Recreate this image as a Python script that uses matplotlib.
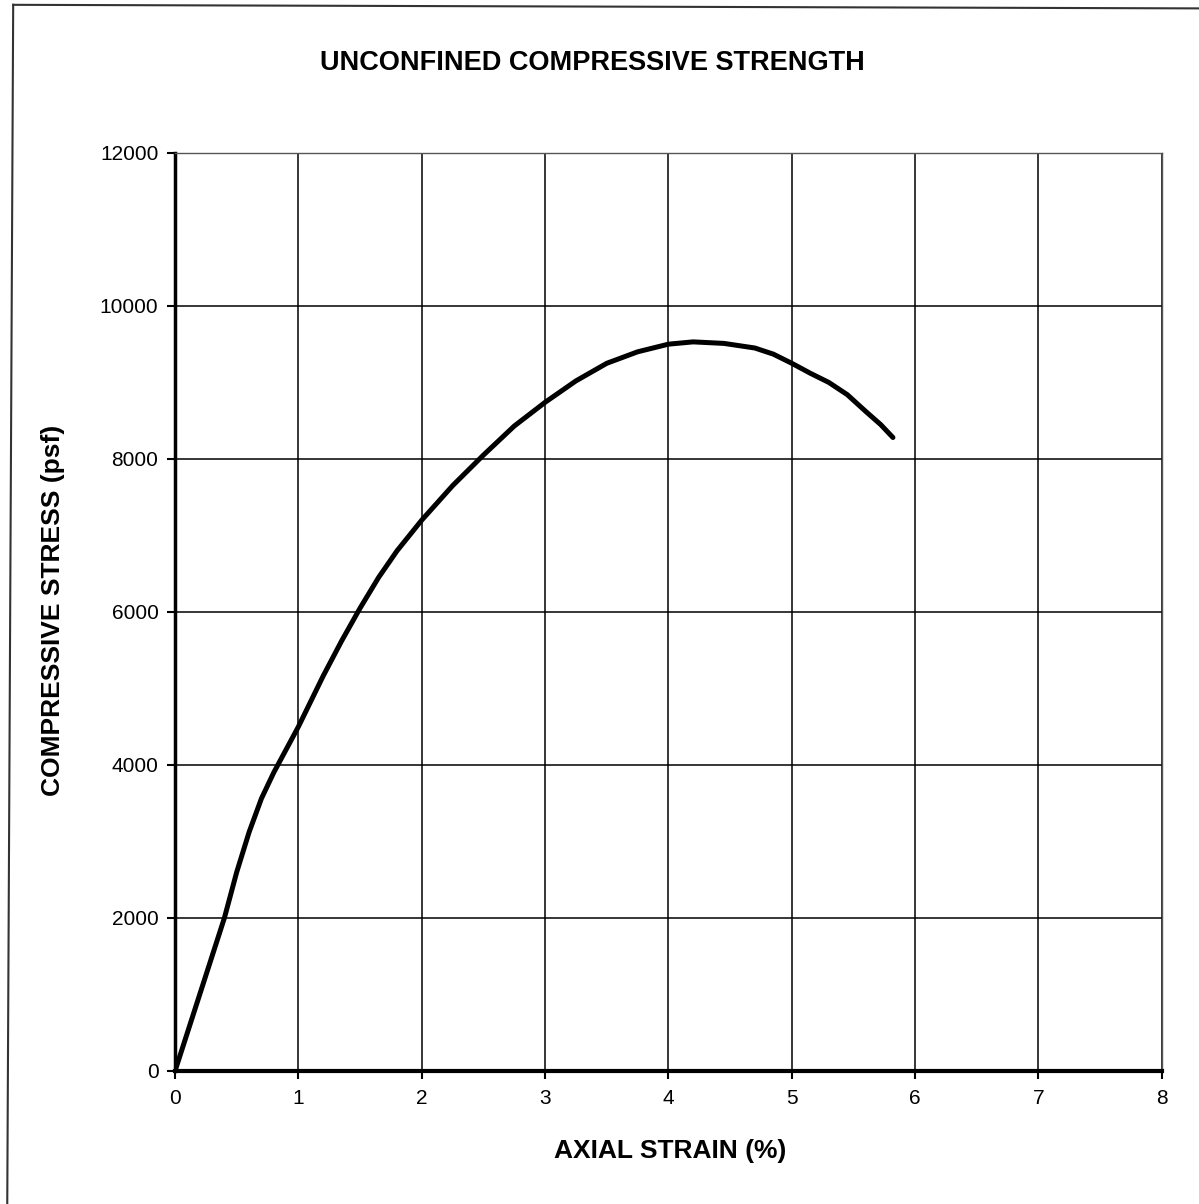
import matplotlib.pyplot as plt
from matplotlib.lines import Line2D

plt.rcParams['font.family'] = ['Liberation Sans', 'DejaVu Sans']

# Data: axial strain (%) and compressive stress (psf)
strain = [0, 0.2, 0.4, 0.5, 0.6, 0.7, 0.8, 0.9, 1.0, 1.1, 1.2, 1.35, 1.5,
          1.65, 1.8, 2.0, 2.25, 2.5, 2.75, 3.0, 3.25, 3.5, 3.75, 4.0, 4.2,
          4.45, 4.7, 4.85, 5.0, 5.15, 5.3, 5.45, 5.6, 5.72, 5.82]
stress = [0, 1000, 2000, 2600, 3120, 3560, 3900, 4200, 4500, 4830, 5160,
          5620, 6050, 6450, 6800, 7200, 7650, 8050, 8430, 8740, 9020, 9250,
          9400, 9500, 9530, 9510, 9450, 9370, 9250, 9120, 9000, 8840, 8620,
          8450, 8280]

x_ticks = [0, 1, 2, 3, 4, 5, 6, 7, 8]
y_ticks = [0, 2000, 4000, 6000, 8000, 10000, 12000]

fig = plt.figure(figsize=(11.99, 12.04), dpi=100)
ax = fig.add_axes([0.146, 0.1105, 0.823, 0.7625])

ax.plot(strain, stress, color='black', linewidth=3.6, solid_capstyle='round',
        solid_joinstyle='round', zorder=3)

ax.set_xlim(0, 8)
ax.set_ylim(0, 12000)
ax.set_xticks(x_ticks)
ax.set_yticks(y_ticks)
ax.grid(True, color='black', linewidth=1.1)
ax.set_axisbelow(True)

ax.tick_params(axis='both', direction='out', length=6, width=1.5,
               labelsize=15, colors='black')
ax.tick_params(axis='x', pad=7)
ax.tick_params(axis='y', pad=6)

ax.spines['left'].set_linewidth(2.5)
ax.spines['bottom'].set_linewidth(3)
ax.spines['top'].set_linewidth(1)
ax.spines['right'].set_linewidth(1)
ax.spines['top'].set_color('#555555')
ax.spines['right'].set_color('#555555')

# Title and axis labels
fig.text(0.494, 0.948, 'UNCONFINED COMPRESSIVE STRENGTH', ha='center',
         va='center', fontsize=19.5, fontweight='bold')
fig.text(0.559, 0.044, 'AXIAL STRAIN (%)', ha='center', va='center',
         fontsize=19, fontweight='bold')
fig.text(0.044, 0.493, 'COMPRESSIVE STRESS (psf)', ha='center', va='center',
         rotation=90, fontsize=19, fontweight='bold')

# Scanned page border (left and top only are visible)
fig.add_artist(Line2D([0.011, 0.006], [0.996, -0.01], color='#333333',
                      linewidth=1.5, transform=fig.transFigure))
fig.add_artist(Line2D([0.011, 1.01], [0.996, 0.993], color='#333333',
                      linewidth=1.5, transform=fig.transFigure))

fig.savefig('out.png', dpi=100)
